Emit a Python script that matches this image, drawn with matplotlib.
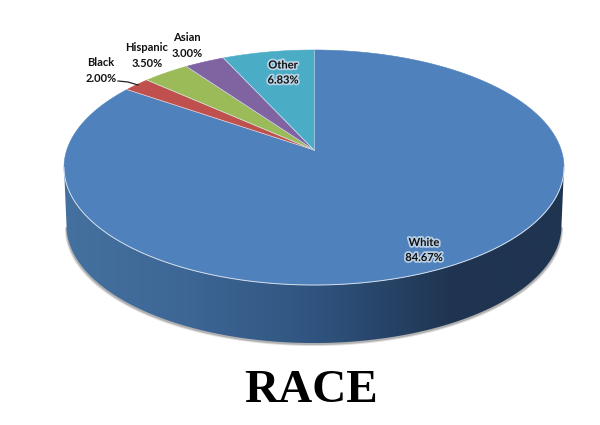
import numpy as np
import matplotlib.pyplot as plt
import matplotlib.patheffects as pe
from matplotlib.colors import LinearSegmentedColormap
from matplotlib.patches import Polygon

labels = ['White', 'Black', 'Hispanic', 'Asian', 'Other']
shares = [84.67, 2.00, 3.50, 3.00, 6.83]
colors = ['#4f81bd', '#c0504d', '#9bbb59', '#8064a2', '#4bacc6']

# top face of the pie, in pixels of the 600x425 picture
cx, cy = 314, 150
k = 0.149
a = 114.9
b = 247.2
depth = 58


def project(theta):
    # theta runs clockwise from 12 o'clock, a little perspective on the disc
    u, v = np.sin(theta), np.cos(theta)
    d = 1 + k * v
    return cx + b * u / d, cy - a * v / d


fig = plt.figure(figsize=(6, 4.25), dpi=100)
ax = fig.add_axes([0, 0, 1, 1])
ax.set_xlim(0, 600)
ax.set_ylim(425, 0)
ax.axis('off')

# side wall, only the front half of the rim, from its rightmost to its leftmost point
t = np.radians(np.linspace(60, 300, 600))
rx, ry = project(t)
first, last = np.argmax(rx), np.argmin(rx)
rx, ry = rx[first:last + 1], ry[first:last + 1]
low_x = cx + (rx - cx) * 0.99
low_y = ry + depth
outline = np.column_stack([np.r_[rx, low_x[::-1]], np.r_[ry, low_y[::-1]]])

# soft shadow under the lower rim only, the top of it stays behind the wall
for grow, drop, tone in [(1.5, 3, '#dddddd'), (0.8, 2, '#b0b0b0')]:
    sx = cx + (low_x - cx) * (1 + grow / 250)
    ax.add_patch(Polygon(np.column_stack([np.r_[sx, cx], np.r_[low_y + drop, 200]]),
                         closed=True, fc=tone, ec='none', zorder=1))

wall_cmap = LinearSegmentedColormap.from_list(
    'wall', [(0, '#44719f'), (0.25, '#3d6695'), (0.5, '#30547f'), (0.78, '#1f3450'), (1, '#1f3450')])
grad = np.linspace(0, 1, 256).reshape(1, -1)
im = ax.imshow(grad, cmap=wall_cmap, extent=[64, 564, 350, 140], aspect='auto', zorder=2)
wall = Polygon(outline, closed=True, fc='none', ec='none', zorder=2)
ax.add_patch(wall)
im.set_clip_path(wall)
ax.set_xlim(0, 600)
ax.set_ylim(425, 0)

# slices, clockwise from the top
edges = np.cumsum([0] + shares) / sum(shares) * 2 * np.pi
for i, name in enumerate(labels):
    th = np.linspace(edges[i], edges[i + 1], 300)
    x, y = project(th)
    ax.fill(np.r_[cx, x], np.r_[cy, y], fc=colors[i], ec=colors[i], lw=0.4, zorder=3)
    # thin pale line down the straight edge
    ax.plot([cx, x[0]], [cy, y[0]], color='#dfe8f2', lw=0.5, zorder=3)

# pale highlight along the front rim only
ax.plot(rx, ry, color='#d5e0ec', lw=0.7, zorder=3)

font = dict(family='Lato', fontsize=8, fontweight='bold', color='#111111',
            ha='center', va='center', linespacing=1.45, zorder=5)
glow = [pe.withStroke(linewidth=2.5, foreground='#c5d8ea', alpha=0.9)]

label_xy = [(424, 250), (101, 70.5), (147, 55.5), (187, 45.5), (283, 72.5)]
for name, share, (lx, ly) in zip(labels, shares, label_xy):
    txt = ax.text(lx, ly, f'{name}\n{share:.2f}%', **font)
    if name in ('White', 'Other'):
        txt.set_path_effects(glow)

# leader line for the Black label
ax.plot([118, 128, 138], [81, 82, 85], color='#222222', lw=0.9, zorder=4)

ax.text(311, 391, 'RACE', family='Liberation Serif', fontsize=34, fontweight='bold',
        color='black', ha='center', va='center', zorder=5)

fig.savefig('out.png', dpi=100)
